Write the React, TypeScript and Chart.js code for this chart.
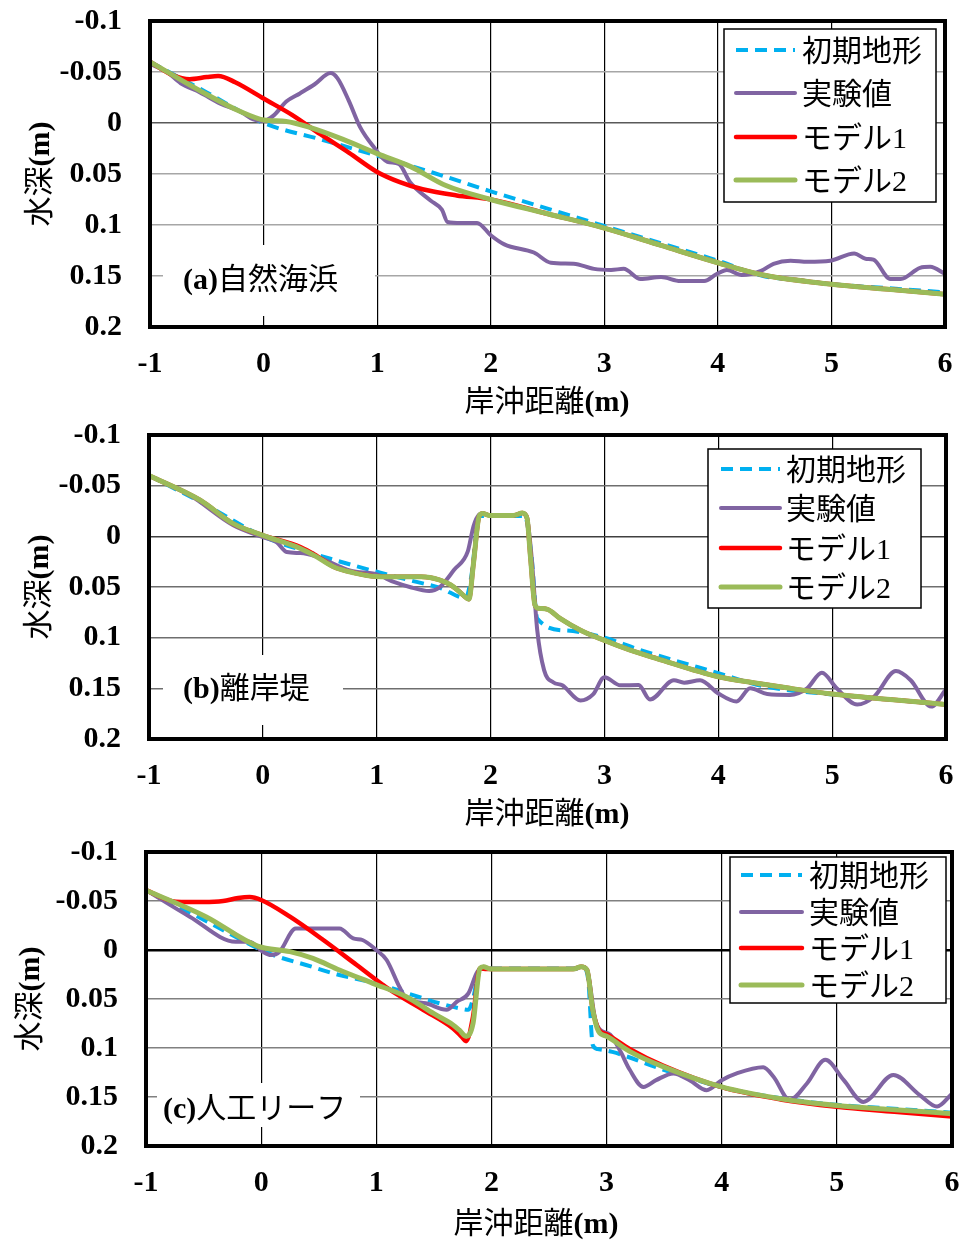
import React, { useEffect, useRef } from "react";
import { Chart, registerables } from "chart.js";

Chart.register(...registerables);

// ---- axes ----
const xTickValues = [-1, 0, 1, 2, 3, 4, 5, 6];
const yTickValues = [-0.1, -0.05, 0, 0.05, 0.1, 0.15, 0.2];
const yTickLabels = ["-0.1", "-0.05", "0", "0.05", "0.1", "0.15", "0.2"];

const seriesNames = ["初期地形", "実験値", "モデル1", "モデル2"];
const yTitleText = ["水深", "(m)"];
const xTitleText = ["岸沖距離", "(m)"];
const panelTags = ["(a)", "(b)", "(c)"];
const panelNames = ["自然海浜", "離岸堤", "人工リーフ"];

// ---- (a) natural beach ----
const aInitX = [-1, -0.5, 0, 0.5, 1, 1.5, 2, 2.5, 3, 3.5, 4, 4.4, 4.7, 5, 5.5, 6];
const aInitY = [-0.06, -0.03, 0, 0.016, 0.032, 0.049, 0.067, 0.084, 0.101, 0.118, 0.135, 0.15, 0.154, 0.158, 0.162, 0.166];

const aExpX = [-1, -0.85, -0.73, -0.56, -0.38, -0.2, -0.09, 0, 0.09, 0.2, 0.32, 0.45, 0.59, 0.65, 0.75, 0.85, 0.97, 1.09, 1.19, 1.29, 1.47, 1.57, 1.62, 1.74, 1.88, 2.0, 2.12, 2.38, 2.53, 2.73, 2.91, 3.06, 3.17, 3.32, 3.5, 3.67, 3.88, 3.99, 4.08, 4.21, 4.38, 4.49, 4.64, 4.79, 4.99, 5.2, 5.3, 5.37, 5.52, 5.61, 5.78, 5.87, 6];
const aExpY = [-0.058, -0.05, -0.039, -0.03, -0.019, -0.011, -0.0035, -0.002, -0.0075, -0.021, -0.029, -0.038, -0.049, -0.044, -0.022, 0.004, 0.0235, 0.038, 0.04, 0.058, 0.076, 0.085, 0.097, 0.098, 0.098, 0.11, 0.119, 0.127, 0.137, 0.138, 0.143, 0.144, 0.143, 0.153, 0.151, 0.155, 0.155, 0.148, 0.144, 0.149, 0.145, 0.138, 0.135, 0.136, 0.135, 0.128, 0.133, 0.134, 0.153, 0.153, 0.142, 0.141, 0.148];

const aM1X = [-1, -0.8, -0.65, -0.5, -0.4, -0.25, 0, 0.25, 0.5, 0.75, 1.0, 1.2, 1.4, 1.7, 2.0, 2.5, 3, 3.5, 4, 4.4, 5, 5.5, 6];
const aM1Y = [-0.06, -0.047, -0.043, -0.045, -0.046, -0.04, -0.024, -0.008, 0.011, 0.029, 0.048, 0.058, 0.065, 0.071, 0.075, 0.089, 0.103, 0.12, 0.137, 0.149, 0.158, 0.163, 0.168];

const aM2X = [-1, -0.5, -0.2, 0, 0.2, 0.4, 0.7, 1.0, 1.3, 1.6, 2.0, 2.5, 3, 3.5, 4, 4.4, 5, 5.5, 6];
const aM2Y = [-0.06, -0.028, -0.011, -0.003, -0.0015, 0.004, 0.016, 0.03, 0.043, 0.061, 0.075, 0.089, 0.103, 0.12, 0.137, 0.149, 0.158, 0.163, 0.168];

// ---- (b) detached breakwater ----
const bInitX = [-1, -0.5, 0, 0.4, 1.0, 1.35, 1.56, 1.78, 1.83, 1.9, 2.3, 2.36, 2.41, 2.67, 3.0, 3.31, 4.0, 4.4, 5, 5.5, 6];
const bInitY = [-0.06, -0.031, 0, 0.0155, 0.035, 0.045, 0.051, 0.061, 0.04, -0.02, -0.02, 0.02, 0.081, 0.093, 0.1, 0.112, 0.135, 0.148, 0.156, 0.161, 0.166];

const bExpX = [-1, -0.64, -0.26, 0, 0.12, 0.21, 0.33, 0.47, 0.77, 1.0, 1.15, 1.29, 1.46, 1.55, 1.68, 1.8, 1.85, 1.9, 1.93, 2.0, 2.2, 2.28, 2.32, 2.36, 2.41, 2.47, 2.55, 2.63, 2.79, 2.9, 3.0, 3.14, 3.3, 3.4, 3.61, 3.7, 3.84, 4.0, 4.16, 4.28, 4.43, 4.63, 4.78, 4.91, 5.04, 5.22, 5.37, 5.56, 5.69, 5.87, 6];
const bExpY = [-0.06, -0.0405, -0.011, 0.0007, 0.0056, 0.0155, 0.0165, 0.02, 0.034, 0.0376, 0.045, 0.05, 0.054, 0.0505, 0.033, 0.0149, -0.0099, -0.0215, -0.0225, -0.0205, -0.0205, -0.023, -0.018, 0.02, 0.0927, 0.132, 0.144, 0.147, 0.162, 0.156, 0.139, 0.147, 0.1467, 0.161, 0.142, 0.1444, 0.142, 0.155, 0.163, 0.15, 0.1556, 0.1565, 0.15, 0.1346, 0.15, 0.166, 0.158, 0.133, 0.142, 0.168, 0.151];

const bModelX = [-1, -0.55, -0.26, 0, 0.33, 0.47, 0.62, 0.8, 1.0, 1.2, 1.39, 1.55, 1.65, 1.72, 1.79, 1.81, 1.85, 1.9, 1.93, 2.0, 2.2, 2.28, 2.32, 2.35, 2.39, 2.42, 2.5, 2.61, 2.79, 3.0, 3.22, 3.46, 4.0, 4.34, 4.63, 5.0, 5.51, 6];
const bM1Y = [-0.06, -0.0356, -0.0125, -0.001, 0.0105, 0.019, 0.03, 0.036, 0.0397, 0.04, 0.04, 0.043, 0.048, 0.054, 0.061, 0.062, 0.0265, -0.02, -0.0225, -0.0205, -0.0205, -0.023, -0.018, 0.02, 0.068, 0.071, 0.072, 0.081, 0.0927, 0.1027, 0.112, 0.1206, 0.1386, 0.145, 0.15, 0.1556, 0.161, 0.166];
const bM2Y = [-0.06, -0.0356, -0.0125, -0.001, 0.012, 0.02, 0.03, 0.036, 0.0397, 0.04, 0.04, 0.043, 0.048, 0.054, 0.061, 0.062, 0.0265, -0.02, -0.0225, -0.0205, -0.0205, -0.023, -0.018, 0.02, 0.068, 0.071, 0.072, 0.081, 0.0927, 0.1027, 0.112, 0.1206, 0.1386, 0.145, 0.15, 0.1556, 0.161, 0.166];

// ---- (c) artificial reef ----
const cInitX = [-1, -0.5, 0, 0.1, 0.39, 0.68, 1.0, 1.32, 1.55, 1.72, 1.8, 1.84, 1.9, 2.8, 2.84, 2.88, 2.92, 3.05, 3.49, 4.0, 4.5, 5, 5.5, 6];
const cInitY = [-0.061, -0.031, 0, 0.005, 0.0153, 0.0255, 0.034, 0.046, 0.0544, 0.0595, 0.061, 0.05, 0.019, 0.019, 0.03, 0.097, 0.101, 0.104, 0.122, 0.14, 0.151, 0.158, 0.162, 0.166];

const cExpX = [-1, -0.62, -0.22, -0.1, 0.014, 0.087, 0.16, 0.3, 0.39, 0.68, 0.8, 0.88, 1.0, 1.09, 1.2, 1.26, 1.43, 1.61, 1.7, 1.8, 1.87, 1.9, 1.93, 1.99, 2.71, 2.78, 2.83, 2.9, 2.94, 3.03, 3.12, 3.2, 3.32, 3.43, 3.58, 3.72, 3.87, 4.0, 4.13, 4.36, 4.45, 4.59, 4.74, 4.9, 5.06, 5.23, 5.49, 5.72, 5.87, 6];
const cExpY = [-0.061, -0.034, -0.0085, -0.0085, 0.0017, 0.0051, 0.0017, -0.022, -0.022, -0.022, -0.0119, -0.0102, 0, 0.0102, 0.0374, 0.0493, 0.0544, 0.061, 0.0527, 0.0442, 0.0238, 0.019, 0.017, 0.0194, 0.0194, 0.017, 0.0204, 0.07, 0.081, 0.0862, 0.1034, 0.122, 0.1397, 0.1328, 0.1259, 0.1328, 0.143, 0.1328, 0.1259, 0.1197, 0.1293, 0.153, 0.1362, 0.112, 0.1328, 0.155, 0.1276, 0.148, 0.1597, 0.1466];

const cM1X = [-1, -0.74, -0.5, -0.33, -0.2, -0.1, 0, 0.25, 0.54, 0.83, 1.12, 1.41, 1.667, 1.74, 1.78, 1.84, 1.9, 1.96, 2.71, 2.78, 2.83, 2.88, 2.93, 3.0, 3.2, 3.49, 4.0, 4.51, 5, 5.5, 6];
const cM1Y = [-0.061, -0.0493, -0.049, -0.05, -0.053, -0.054, -0.051, -0.034, -0.0102, 0.0153, 0.0408, 0.0612, 0.08, 0.0884, 0.093, 0.068, 0.0187, 0.0194, 0.0194, 0.017, 0.0204, 0.061, 0.081, 0.086, 0.101, 0.118, 0.14, 0.1525, 0.16, 0.165, 0.17];

const cM2X = [-1, -0.48, -0.03, 0.25, 0.45, 0.68, 0.97, 1.26, 1.5, 1.667, 1.72, 1.78, 1.84, 1.9, 1.93, 1.99, 2.71, 2.78, 2.83, 2.88, 2.93, 3.0, 3.2, 3.49, 4.0, 4.51, 5, 5.5, 6];
const cM2Y = [-0.061, -0.034, -0.004, 0.0017, 0.0085, 0.0204, 0.034, 0.0476, 0.065, 0.0765, 0.0816, 0.088, 0.075, 0.0187, 0.017, 0.0194, 0.0194, 0.017, 0.0204, 0.061, 0.083, 0.088, 0.1034, 0.119, 0.1397, 0.1517, 0.1586, 0.163, 0.167];

// ---- styling ----
const SERIF = "'Liberation Serif', 'Times New Roman', serif";
const CJK = "'Noto Sans CJK JP', sans-serif";
const LEGEND_FONT = "30px 'Liberation Serif', 'Noto Sans CJK JP', serif";

const SERIES_STYLE = [
  { color: "#00b0f0", width: 4, dash: [12, 7] },
  { color: "#8064a2", width: 4, dash: [] as number[] },
  { color: "#ff0000", width: 4.5, dash: [] as number[] },
  { color: "#9bbb59", width: 5, dash: [] as number[] },
];

const W = 964;

type Run = { text: string; font: string };

function points(xs: number[], ys: number[]) {
  return xs.map((x, i) => ({ x, y: ys[i] }));
}

function drawRuns(ctx: CanvasRenderingContext2D, runs: Run[], x: number, baseY: number, align: "left" | "center") {
  ctx.textAlign = "left";
  ctx.textBaseline = "alphabetic";
  const widths = runs.map((r) => {
    ctx.font = r.font;
    return ctx.measureText(r.text).width;
  });
  const total = widths.reduce((s, w) => s + w, 0);
  let cx = align === "center" ? x - total / 2 : x;
  runs.forEach((r, i) => {
    ctx.font = r.font;
    ctx.fillText(r.text, cx, baseY);
    cx += widths[i];
  });
}

// scale label overflow must not push the plot frame around
function clearScalePadding(s: any) {
  s.paddingTop = 0;
  s.paddingBottom = 0;
  s.paddingLeft = 0;
  s.paddingRight = 0;
}

const PANELS = [
  {
    top: 0, height: 418,
    area: { l: 150, t: 21, r: 945, b: 327 },
    gridColor: "#a6a6a6", zeroColor: "#595959", zeroWidth: 1.6,
    legend: { x: 724, y: 29, w: 212, h: 173, rows: [50, 93, 137, 180], lx0: 736, lx1: 795, tx: 802 },
    tagBox: { x: 163, y: 245, w: 212, h: 71, tx: 183, cy: 278 },
    yTitleX: 38, xTitleX: 547, xTitleGap: 73,
    series: [
      points(aInitX, aInitY), points(aExpX, aExpY), points(aM1X, aM1Y), points(aM2X, aM2Y),
    ],
  },
  {
    top: 418, height: 412,
    area: { l: 149, t: 17, r: 946, b: 321 },
    gridColor: "#6e6e6e", zeroColor: "#404040", zeroWidth: 1.6,
    legend: { x: 708, y: 31, w: 213, h: 159, rows: [51, 90, 130, 169], lx0: 721, lx1: 780, tx: 786 },
    tagBox: { x: 163, y: 237, w: 180, h: 70, tx: 183, cy: 269 },
    yTitleX: 37, xTitleX: 547, xTitleGap: 73,
    series: [
      points(bInitX, bInitY), points(bExpX, bExpY), points(bModelX, bM1Y), points(bModelX, bM2Y),
    ],
  },
  {
    top: 830, height: 414,
    area: { l: 146, t: 22, r: 952, b: 316 },
    gridColor: "#808080", zeroColor: "#000000", zeroWidth: 2.5,
    legend: { x: 730, y: 27, w: 216, h: 146, rows: [45, 82, 118, 155], lx0: 741, lx1: 802, tx: 809 },
    tagBox: { x: 157, y: 253, w: 203, h: 44, tx: 163, cy: 277 },
    yTitleX: 28, xTitleX: 536, xTitleGap: 76,
    series: [
      points(cInitX, cInitY), points(cExpX, cExpY), points(cM1X, cM1Y), points(cM2X, cM2Y),
    ],
  },
];

function ProfileChart({ index }: { index: number }) {
  const ref = useRef<HTMLCanvasElement>(null);
  const p = PANELS[index];

  useEffect(() => {
    const canvas = ref.current;
    if (!canvas) return;

    const decor = {
      id: "profileDecor",
      beforeDatasetsDraw(chart: Chart) {
        const ctx = chart.ctx;
        const t = p.tagBox;
        ctx.save();
        ctx.fillStyle = "#ffffff";
        ctx.fillRect(t.x, t.y, t.w, t.h);
        ctx.fillStyle = "#000000";
        drawRuns(
          ctx,
          [
            { text: panelTags[index], font: `bold 30px ${SERIF}` },
            { text: panelNames[index], font: `30px ${CJK}` },
          ],
          t.tx,
          t.cy + 11,
          "left"
        );
        ctx.restore();
      },
      afterDraw(chart: Chart) {
        const ctx = chart.ctx;
        const a = chart.chartArea;
        ctx.save();

        // plot frame
        ctx.strokeStyle = "#000000";
        ctx.lineWidth = 4;
        ctx.strokeRect(a.left, a.top, a.right - a.left, a.bottom - a.top);

        // legend
        const L = p.legend;
        ctx.fillStyle = "#ffffff";
        ctx.fillRect(L.x, L.y, L.w, L.h);
        ctx.lineWidth = 1.5;
        ctx.strokeStyle = "#000000";
        ctx.strokeRect(L.x, L.y, L.w, L.h);
        seriesNames.forEach((name, i) => {
          const st = SERIES_STYLE[i];
          const y = L.rows[i];
          ctx.beginPath();
          ctx.setLineDash(st.dash);
          ctx.lineCap = st.dash.length ? "butt" : "round";
          ctx.strokeStyle = st.color;
          ctx.lineWidth = st.width;
          ctx.moveTo(L.lx0, y);
          ctx.lineTo(L.lx1, y);
          ctx.stroke();
          ctx.setLineDash([]);
          ctx.fillStyle = "#000000";
          drawRuns(ctx, [{ text: name, font: LEGEND_FONT }], L.tx, y + 11, "left");
        });

        // axis titles
        ctx.fillStyle = "#000000";
        drawRuns(
          ctx,
          [
            { text: xTitleText[0], font: `30px ${CJK}` },
            { text: xTitleText[1], font: `bold 30px ${SERIF}` },
          ],
          p.xTitleX,
          a.bottom + p.xTitleGap + 11,
          "center"
        );
        ctx.translate(p.yTitleX, (a.top + a.bottom) / 2);
        ctx.rotate(-Math.PI / 2);
        drawRuns(
          ctx,
          [
            { text: yTitleText[0], font: `30px ${CJK}` },
            { text: yTitleText[1], font: `bold 30px ${SERIF}` },
          ],
          0,
          11,
          "center"
        );
        ctx.restore();
      },
    };

    const tickFont = { family: SERIF, size: 30, weight: "bold" as const };

    const chart = new Chart(canvas, {
      type: "line",
      data: {
        datasets: seriesNames.map((name, i) => ({
          label: name,
          data: p.series[i],
          borderColor: SERIES_STYLE[i].color,
          borderWidth: SERIES_STYLE[i].width,
          borderDash: SERIES_STYLE[i].dash,
          borderCapStyle: SERIES_STYLE[i].dash.length ? "butt" : "round",
          borderJoinStyle: "round",
          pointRadius: 0,
          fill: false,
          cubicInterpolationMode: "monotone",
          order: 4 - i,
        })),
      },
      options: {
        responsive: false,
        maintainAspectRatio: false,
        animation: false,
        devicePixelRatio: 1,
        layout: { padding: { top: p.area.t, right: W - p.area.r, left: 0, bottom: 0 } },
        plugins: { legend: { display: false }, tooltip: { enabled: false } },
        scales: {
          x: {
            type: "linear",
            min: -1,
            max: 6,
            afterFit: (s: any) => {
              s.height = p.height - p.area.b;
              clearScalePadding(s);
            },
            afterBuildTicks: (s: any) => {
              s.ticks = xTickValues.map((v) => ({ value: v }));
            },
            grid: { color: "#000000", lineWidth: 1.2, drawTicks: false },
            border: { display: false },
            ticks: {
              font: tickFont,
              color: "#000000",
              padding: 19,
              maxRotation: 0,
              autoSkip: false,
              callback: (v: any) => String(v),
            },
          },
          y: {
            type: "linear",
            min: -0.1,
            max: 0.2,
            reverse: true,
            afterFit: (s: any) => {
              s.width = p.area.l;
              clearScalePadding(s);
            },
            afterBuildTicks: (s: any) => {
              s.ticks = yTickValues.map((v) => ({ value: v }));
            },
            grid: {
              color: (c: any) => (c.tick && Math.abs(c.tick.value) < 1e-9 ? p.zeroColor : p.gridColor),
              lineWidth: (c: any) => (c.tick && Math.abs(c.tick.value) < 1e-9 ? p.zeroWidth : 1.5),
              drawTicks: false,
            },
            border: { display: false },
            ticks: {
              font: tickFont,
              color: "#000000",
              padding: 28,
              autoSkip: false,
              callback: (v: any) => {
                const k = yTickValues.findIndex((t) => Math.abs(t - Number(v)) < 1e-9);
                return k >= 0 ? yTickLabels[k] : "";
              },
            },
          },
        },
      },
      plugins: [decor],
    } as any);

    return () => chart.destroy();
  }, [index]);

  return (
    <canvas
      ref={ref}
      width={W}
      height={p.height}
      style={{ position: "absolute", left: 0, top: p.top, width: W, height: p.height, display: "block" }}
    />
  );
}

export default function App() {
  return (
    <div style={{ position: "absolute", left: 0, top: 0, width: W, height: 1244, background: "#ffffff", overflow: "hidden" }}>
      <ProfileChart index={0} />
      <ProfileChart index={1} />
      <ProfileChart index={2} />
    </div>
  );
}
